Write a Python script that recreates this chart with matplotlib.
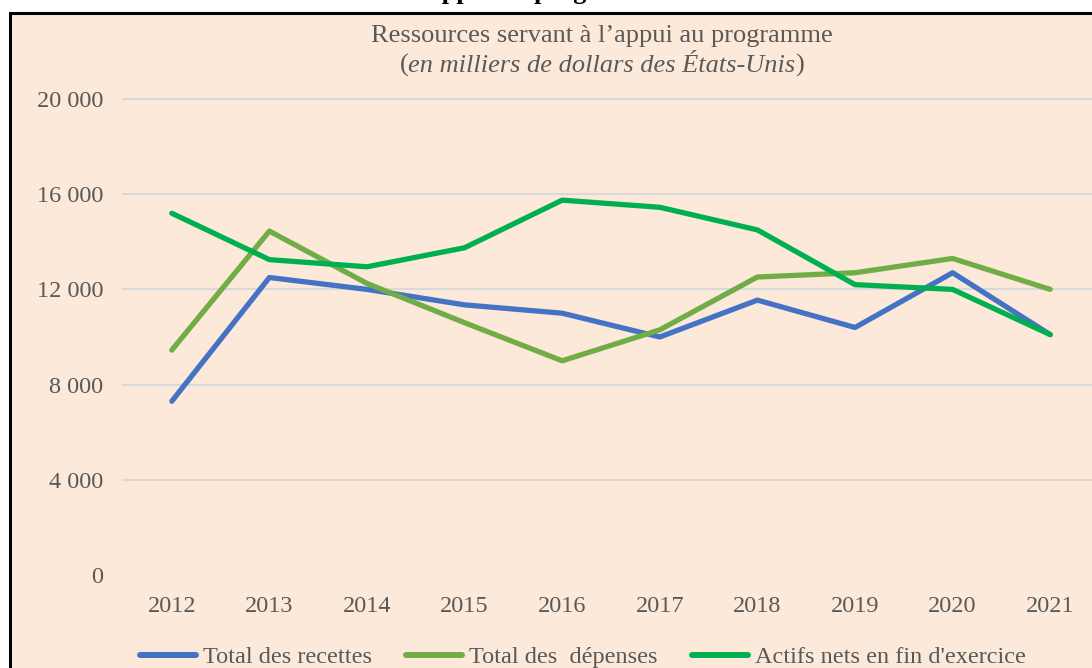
import matplotlib.pyplot as plt
from matplotlib.patches import Rectangle

years = [2012, 2013, 2014, 2015, 2016, 2017, 2018, 2019, 2020, 2021]
recettes = [7300, 12500, 12000, 11350, 11000, 10000, 11550, 10400, 12700, 10100]
depenses = [9450, 14450, 12250, 10600, 9000, 10300, 12520, 12700, 13300, 12000]
actifs = [15200, 13250, 12950, 13750, 15750, 15450, 14500, 12200, 12000, 10100]
series_names = ["Total des recettes", "Total des  dépenses", "Actifs nets en fin d'exercice"]
yticks = [0, 4000, 8000, 12000, 16000, 20000]
ytick_labels = ["0", "4 000", "8 000", "12 000", "16 000", "20 000"]

W, H = 1092, 668
plt.rcParams['font.family'] = ['Liberation Serif', 'DejaVu Serif']
grey = '#595959'
peach = '#FDE9D9'

fig = plt.figure(figsize=(W / 100, H / 100), dpi=100)
fig.patch.set_facecolor('white')

# bordered peach box (cropped on right and bottom)
box = Rectangle((10 / W, -0.05), 1.1, 1 - 13 / H + 0.05, transform=fig.transFigure,
                facecolor=peach, edgecolor='black', linewidth=2.2, zorder=-5)
fig.patches.append(box)

# bold heading, mostly cut off at the top as in the source
fig.text(420 / W, 1 + 1 / H, "Ressources servant à l’appui au programme",
         ha='center', va='baseline', fontsize=19, fontweight='bold', color='black')

left, right = 123 / W, 1099 / W
bottom, top = 1 - 575 / H, 1 - 99 / H
ax = fig.add_axes([left, bottom, right - left, top - bottom])
ax.set_facecolor('none')
ax.set_zorder(2)

x = list(range(len(years)))
colors = ['#4472C4', '#70AD47', '#00B050']
for vals, name, c in zip([recettes, depenses, actifs], series_names, colors):
    ax.plot(x, vals, color=c, lw=3.8, solid_capstyle='round', solid_joinstyle='round',
            label=name, zorder=3)

ax.set_xlim(-0.5, 9.5)
ax.set_ylim(0, 20000)
ax.set_xticks(x)
ax.set_xticklabels([str(y) for y in years])
ax.set_yticks(yticks)
ax.set_yticklabels(ytick_labels)
ax.tick_params(axis='both', length=0, labelsize=17.5, colors=grey)
ax.tick_params(axis='y', pad=14)
ax.tick_params(axis='x', pad=15)
ax.grid(axis='y', color='#D9D9D9', lw=1.5)
for gl in ax.get_ygridlines():
    gl.set_clip_on(False)
ax.get_ygridlines()[0].set_visible(False)
ax.set_axisbelow(True)
for s in ax.spines.values():
    s.set_visible(False)

# chart title
fig.text(602 / W, 1 - 42 / H, "Ressources servant à l’appui au programme",
         ha='center', va='baseline', fontsize=19, color=grey)
it = fig.text(602 / W, 1 - 72 / H, "en milliers de dollars des États-Unis",
              ha='center', va='baseline', fontsize=19, color=grey, style='italic')
fig.canvas.draw()
bb = it.get_window_extent().transformed(fig.transFigure.inverted())
fig.text(bb.x0, 1 - 72 / H, "(", ha='right', va='baseline', fontsize=19, color=grey)
fig.text(bb.x1, 1 - 72 / H, ")", ha='left', va='baseline', fontsize=19, color=grey)

leg = fig.legend(loc='center', bbox_to_anchor=(583 / W, 1 - 657 / H), ncol=3,
                 frameon=False, fontsize=17.5, handlelength=2.3, handletextpad=0.3,
                 columnspacing=1.4, borderpad=0)
for t in leg.get_texts():
    t.set_color(grey)
for h in leg.get_lines():
    h.set_linewidth(4.3)

fig.savefig('out.png', dpi=100, facecolor='white')
